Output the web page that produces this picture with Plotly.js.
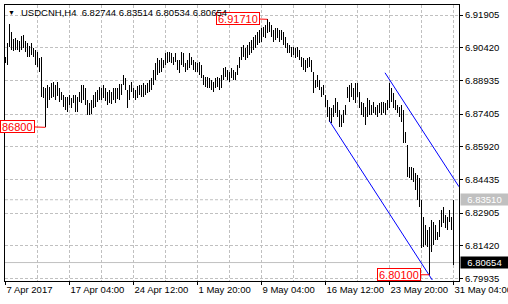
<!DOCTYPE html>
<html><head><meta charset="utf-8">
<script src="https://cdn.plot.ly/plotly-3.0.1.min.js"></script>
<style>html,body{margin:0;padding:0;background:#fff;}#chart{width:508px;height:304px;}</style>
</head><body><div id="chart"></div>
<script>
// USDCNH H4 bars (high / low), oldest first, one per 4-hour bar
const high = [
6.9000,6.9063,6.9150,6.9113,6.9081,6.9086,6.9077,6.9072,6.9095,6.9100,
6.9072,6.9063,6.9050,6.9063,6.9041,6.9031,6.9022,6.8995,6.9000,6.8863,
6.8859,6.8872,6.8863,6.8881,6.8886,6.8872,6.8886,6.8859,6.8841,6.8827,
6.8818,6.8818,6.8827,6.8813,6.8827,6.8827,6.8818,6.8841,6.8872,6.8872,
6.8859,6.8804,6.8791,6.8804,6.8827,6.8841,6.8850,6.8863,6.8859,6.8872,
6.8859,6.8841,6.8850,6.8841,6.8859,6.8859,6.8859,6.8877,6.8877,6.8918,
6.8904,6.8850,6.8872,6.8886,6.8859,6.8850,6.8868,6.8872,6.8872,6.8881,
6.8872,6.8881,6.8895,6.8904,6.8941,6.8972,6.8995,6.8986,6.8995,6.8986,
6.9018,6.9022,6.9022,6.9018,6.9000,6.9018,6.8986,6.8986,6.9022,6.9018,
6.8972,6.8986,6.9018,6.9000,6.8986,6.8977,6.8972,6.8977,6.8963,6.8918,
6.8909,6.8909,6.8904,6.8895,6.8886,6.8904,6.8909,6.8904,6.8918,6.8950,
6.8954,6.8941,6.8931,6.8950,6.8941,6.8931,6.8963,6.9000,6.9045,6.9054,
6.9041,6.9054,6.9068,6.9077,6.9091,6.9100,6.9113,6.9122,6.9131,6.9136,
6.9145,6.9171,6.9159,6.9145,6.9122,6.9131,6.9131,6.9122,6.9122,6.9113,
6.9091,6.9063,6.9054,6.9045,6.9045,6.9041,6.9045,6.9031,6.9000,6.8995,
6.8986,6.8995,6.9000,6.8986,6.8931,6.8895,6.8918,6.8895,6.8863,6.8872,
6.8827,6.8804,6.8772,6.8768,6.8781,6.8813,6.8795,6.8759,6.8736,6.8759,
6.8781,6.8863,6.8872,6.8881,6.8859,6.8881,6.8881,6.8841,6.8795,6.8791,
6.8772,6.8813,6.8804,6.8781,6.8795,6.8772,6.8781,6.8791,6.8795,6.8795,
6.8791,6.8804,6.8881,6.8859,6.8836,6.8804,6.8781,6.8772,6.8781,6.8759,
6.8659,6.8600,6.8500,6.8500,6.8495,6.8472,6.8463,6.8450,6.8350,6.8272,
6.8236,6.8213,6.8227,6.8259,6.8250,6.8236,6.8204,6.8259,6.8304,6.8318,
6.8282,6.8272,6.8304,6.8272,6.83514
];
const low = [
6.8972,6.8963,6.9045,6.9031,6.9027,6.9031,6.9031,6.9022,6.9031,6.9041,
6.9022,6.9000,6.9000,6.9009,6.9000,6.8963,6.8954,6.8931,6.8818,6.8813,
6.8680,6.8768,6.8804,6.8813,6.8818,6.8804,6.8822,6.8795,6.8804,6.8772,
6.8759,6.8750,6.8781,6.8768,6.8791,6.8750,6.8750,6.8795,6.8791,6.8804,
6.8781,6.8736,6.8736,6.8741,6.8768,6.8772,6.8795,6.8804,6.8804,6.8813,
6.8800,6.8781,6.8791,6.8786,6.8804,6.8791,6.8809,6.8804,6.8827,6.8872,
6.8850,6.8768,6.8804,6.8841,6.8813,6.8804,6.8813,6.8827,6.8818,6.8818,
6.8827,6.8836,6.8841,6.8850,6.8872,6.8895,6.8918,6.8927,6.8931,6.8950,
6.8963,6.8972,6.8977,6.8972,6.8963,6.8977,6.8941,6.8927,6.8963,6.8954,
6.8931,6.8941,6.8950,6.8963,6.8941,6.8931,6.8931,6.8918,6.8904,6.8872,
6.8863,6.8859,6.8859,6.8850,6.8841,6.8859,6.8863,6.8850,6.8859,6.8895,
6.8909,6.8895,6.8886,6.8904,6.8895,6.8895,6.8918,6.8950,6.8986,6.9000,
6.8986,6.8995,6.9009,6.9018,6.9031,6.9041,6.9054,6.9063,6.9068,6.9091,
6.9086,6.9109,6.9113,6.9091,6.9068,6.9077,6.9086,6.9068,6.9077,6.9054,
6.9041,6.9018,6.9018,6.9000,6.9009,6.8995,6.9000,6.8986,6.8954,6.8941,
6.8931,6.8950,6.8954,6.8931,6.8836,6.8859,6.8863,6.8850,6.8818,6.8827,
6.8772,6.8727,6.8704,6.8700,6.8727,6.8745,6.8727,6.8681,6.8681,6.8700,
6.8736,6.8813,6.8795,6.8818,6.8804,6.8791,6.8818,6.8768,6.8736,6.8727,
6.8691,6.8727,6.8736,6.8736,6.8745,6.8736,6.8727,6.8745,6.8736,6.8745,
6.8736,6.8759,6.8768,6.8795,6.8768,6.8759,6.8745,6.8727,6.8704,6.8609,
6.8609,6.8454,6.8450,6.8441,6.8431,6.8395,6.8350,6.8318,6.8132,6.8136,
6.8145,6.8136,6.8010,6.8113,6.8145,6.8168,6.8168,6.8182,6.8227,6.8245,
6.8222,6.8213,6.8250,6.8213,6.80534
];
const barIndex = high.map((_, i) => i);

const tickIndex = [0, 32, 64, 96, 128, 160, 192, 224];
const tickLabels = ['7 Apr 2017', '17 Apr 04:00', '24 Apr 12:00', '1 May 20:00', '9 May 04:00', '16 May 12:00', '23 May 20:00', '31 May 04:00'];
const gridIndex = [16, 48, 80, 112, 144, 176, 208];
const priceTicks = [6.79935, 6.81420, 6.82905, 6.84435, 6.85920, 6.87405, 6.88935, 6.90420, 6.91905];
const priceTickLabels = ['6.79935', '6.81420', '6.82905', '6.84435', '6.85920', '6.87405', '6.88935', '6.90420', '6.91905'];

const symbolTitle = 'USDCNH,H4';
const lastBar = ['6.82744', '6.83514', '6.80534', '6.80654'];
const bidPrice = 6.80654;
const levelPrice = 6.83510;

// swing price labels: bar index, price, shown text
const swingIndex = [131, 20, 212];
const swingPrice = [6.9171, 6.8680, 6.8010];
const swingText = ['6.91710', '86800', '6.80100'];

// channel trend lines (bar index, price)
const lowerLineX = [161.9, 213.4];
const lowerLineY = [6.8710, 6.7986];
const upperLineX = [189.75, 226.75];
const upperLineY = [6.8928, 6.8410];

const FONT = '"Liberation Sans", Arial, sans-serif';
const GRID = '#c0c0c0';

const traces = [
  {type: 'bar', x: barIndex, base: low, y: high.map((h, i) => h - low[i]), width: 0.5,
   marker: {color: '#000000', line: {width: 0}}, hoverinfo: 'skip'},
  {type: 'scatter', mode: 'lines', x: lowerLineX, y: lowerLineY, line: {color: '#0000ff', width: 1}, hoverinfo: 'skip'},
  {type: 'scatter', mode: 'lines', x: upperLineX, y: upperLineY, line: {color: '#0000ff', width: 1}, hoverinfo: 'skip'}
];

const swingAx = [-29.5, -28.5, -30.6];
const swingAy = [-1, -1, 0];
const annotations = swingIndex.map((ix, k) => ({
  x: ix, y: swingPrice[k], xref: 'x', yref: 'y', text: swingText[k],
  showarrow: true, arrowhead: 0, arrowwidth: 1, arrowcolor: '#ff0000',
  ax: swingAx[k], ay: swingAy[k], standoff: 0,
  font: {family: FONT, size: 11, color: '#ff0000'},
  bgcolor: '#ffffff', bordercolor: '#ff0000', borderwidth: 1, borderpad: 1, height: 9
}));
annotations.push(
  {xref: 'paper', yref: 'paper', x: (11.5 - 5) / 454, y: (281 - 12.5) / 276, text: '▼', showarrow: false,
   xanchor: 'center', yanchor: 'middle', font: {family: FONT, size: 7, color: '#000'}},
  {xref: 'paper', yref: 'paper', x: (20 - 5) / 454, y: (281 - 12.7) / 276,
   text: symbolTitle + '\u00a0\u00a0' + lastBar.join(' '), showarrow: false,
   xanchor: 'left', yanchor: 'middle', borderpad: 0, font: {family: FONT, size: 9.5, color: '#000'}},
  {xref: 'paper', yref: 'y', x: 1, y: levelPrice, xanchor: 'left', yanchor: 'middle', xshift: 1,
   text: levelPrice.toFixed(5), showarrow: false, bgcolor: GRID, borderpad: 0, width: 47, height: 11,
   font: {family: FONT, size: 9.5, color: '#ffffff'}},
  {xref: 'paper', yref: 'y', x: 1, y: bidPrice, xanchor: 'left', yanchor: 'middle', xshift: 1,
   text: bidPrice.toFixed(5), showarrow: false, bgcolor: '#000000', borderpad: 0, width: 47, height: 11,
   font: {family: FONT, size: 9.5, color: '#ffffff'}}
);

const layout = {
  width: 508, height: 304,
  margin: {l: 5, r: 49, t: 5, b: 23, pad: 0},
  paper_bgcolor: '#ffffff', plot_bgcolor: '#ffffff', showlegend: false,
  font: {family: FONT, size: 9.5, color: '#000'},
  bargap: 0,
  xaxis: {
    range: [-0.25, 226.75], tickmode: 'array', tickvals: tickIndex, ticktext: tickLabels,
    tickangle: 0, ticklabelposition: 'outside right', ticklabeloverflow: 'allow',
    ticks: 'outside', ticklen: 3, tickcolor: '#000', tickwidth: 1,
    showgrid: true, gridcolor: GRID, griddash: '3px,2px', gridwidth: 1,
    minor: {tickmode: 'array', tickvals: gridIndex, showgrid: true, gridcolor: GRID, griddash: '3px,2px', gridwidth: 1, ticks: ''},
    showline: true, linecolor: '#000', linewidth: 1, mirror: true, zeroline: false, fixedrange: true,
    tickfont: {family: FONT, size: 9.5, color: '#000'}
  },
  yaxis: {
    side: 'right', range: [6.79816, 6.92360], tickmode: 'array', tickvals: priceTicks, ticktext: priceTickLabels,
    ticks: 'outside', ticklen: 3, tickcolor: '#000', tickwidth: 1,
    showgrid: true, gridcolor: GRID, griddash: '3px,2px', gridwidth: 1,
    showline: true, linecolor: '#000', linewidth: 1, mirror: true, zeroline: false, fixedrange: true,
    tickfont: {family: FONT, size: 9.5, color: '#000'}
  },
  shapes: [
    {type: 'line', xref: 'paper', yref: 'y', x0: 0, x1: 1, y0: bidPrice, y1: bidPrice, layer: 'below',
     line: {color: GRID, width: 1}},
    {type: 'line', xref: 'paper', yref: 'y', x0: 0, x1: 1, y0: levelPrice, y1: levelPrice, layer: 'below',
     line: {color: GRID, width: 1, dash: '3px,2px'}}
  ],
  annotations: annotations
};

Plotly.newPlot('chart', traces, layout, {displayModeBar: false, staticPlot: true});
</script>
</body></html>
